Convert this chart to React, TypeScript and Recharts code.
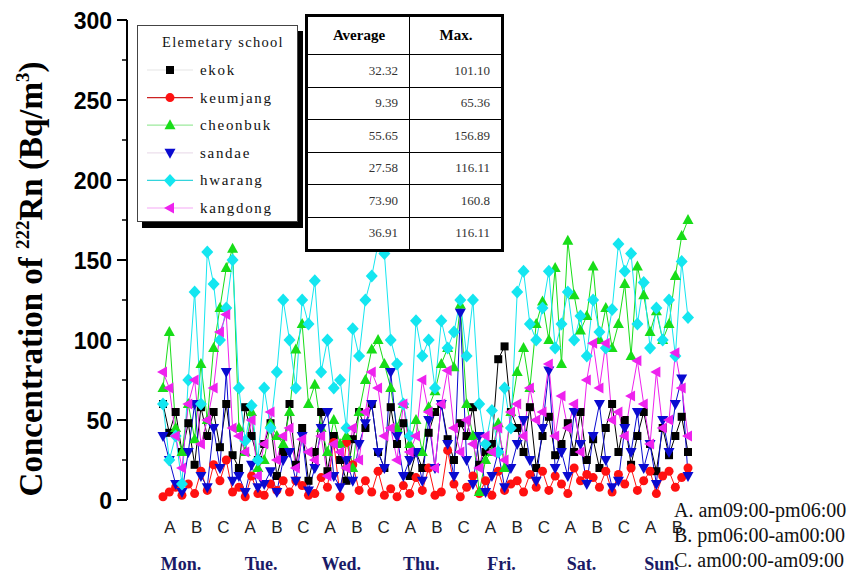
import React from "react";
import { ComposedChart, Line, XAxis, YAxis, Legend } from "recharts";

// schools, in legend order
const schools = ["ekok", "keumjang", "cheonbuk", "sandae", "hwarang", "kangdong"];

// 4 readings per period, periods run Mon A, Mon B, Mon C ... Sun C (Bq/m3)
const ekok = [
  60, 42, 55, 30, 48, 22, 58, 40, 55, 33, 60, 28, 20, 58, 40, 25, 35, 48, 15, 30, 60, 22, 45, 12,
  30, 55, 18, 40, 25, 12, 38, 55, 45, 60, 30, 20, 58, 35, 48, 15, 30, 20, 42, 55, 60, 38, 25, 48,
  40, 58, 22, 30, 35, 88, 96, 55, 45, 30, 58, 20, 40, 52, 28, 35, 48, 30, 55, 25, 38, 20, 45, 60,
  30, 50, 22, 40, 55, 35, 18, 45, 28, 40, 52, 30,
];
const keumjang = [
  2, 5, 8, 3, 10, 4, 18, 6, 22, 12, 25, 5, 8, 2, 15, 4, 3, 10, 6, 12, 5, 12, 9, 3,
  4, 14, 8, 36, 2, 36, 22, 6, 12, 5, 18, 3, 7, 2, 9, 4, 14, 6, 20, 3, 5, 31, 10, 2,
  8, 15, 4, 12, 3, 18, 6, 10, 12, 5, 16, 8, 18, 6, 15, 10, 4, 20, 12, 16, 14, 8, 18, 5,
  16, 10, 20, 6, 12, 18, 4, 15, 18, 8, 14, 20,
];
const cheonbuk = [
  70, 105, 45, 30, 60, 38, 85, 50, 95, 120, 145, 157, 45, 30, 55, 20, 25, 48, 40, 35, 55, 94, 110, 60,
  72, 45, 30, 50, 35, 40, 20, 55, 75, 94, 100, 85, 70, 45, 60, 35, 50, 30, 58, 68, 85, 95, 83, 122,
  60, 40, 5, 25, 30, 48, 20, 55, 80, 95, 70, 110, 124, 100, 145, 85, 162, 128, 106, 115, 146, 100, 120, 95,
  110, 135, 90, 146, 128, 105, 118, 100, 110, 140, 165, 175,
];
const sandae = [
  40, 25, 10, 5, 30, 60, 15, 8, 45, 20, 80, 12, 15, 5, 22, 8, 10, 18, 5, 25, 30, 12, 40, 6,
  20, 45, 55, 15, 8, 25, 12, 35, 48, 60, 30, 20, 80, 40, 15, 25, 30, 12, 50, 20, 60, 35, 15, 117,
  25, 10, 40, 5, 15, 30, 8, 20, 35, 50, 25, 12, 45, 81, 20, 30, 15, 55, 35, 10, 40, 60, 25, 8,
  12, 45, 30, 55, 20, 35, 10, 50, 30, 60, 76, 15,
];
const hwarang = [
  60, 25, 40, 10, 75, 130, 60, 155, 135, 100, 120, 150, 70, 37, 59, 25, 70, 45, 80, 125, 100, 70, 125, 110,
  137, 80, 100, 70, 75, 45, 107, 90, 125, 140, 160, 154, 100, 85, 60, 40, 112, 90, 100, 70, 112, 95, 105, 125,
  90, 125, 60, 35, 56, 30, 70, 45, 130, 143, 110, 100, 120, 143, 95, 110, 130, 100, 115, 90, 125, 105, 95, 119,
  160, 143, 154, 110, 136, 95, 120, 100, 125, 90, 149, 114,
];
const kangdong = [
  80, 70, 40, 20, 60, 75, 35, 50, 70, 105, 116, 45, 40, 30, 50, 15, 35, 55, 25, 40, 45, 20, 38, 30,
  25, 40, 15, 35, 30, 20, 45, 25, 55, 80, 70, 40, 45, 25, 60, 30, 40, 75, 55, 20, 60, 81, 45, 30,
  50, 35, 20, 40, 30, 45, 25, 55, 60, 40, 70, 50, 55, 85, 40, 65, 45, 60, 30, 75, 98, 70, 98, 50,
  55, 40, 65, 87, 60, 35, 80, 45, 50, 92, 70, 40,
];

// summary table
const averages = ["32.32", "9.39", "55.65", "27.58", "73.90", "36.91"];
const maxima = ["101.10", "65.36", "156.89", "116.11", "160.8", "116.11"];

const yTicks = [0, 25, 50, 75, 100, 125, 150, 175, 200, 225, 250, 275, 300];
const periodLabels = [
  "A", "B", "C", "A", "B", "C", "A", "B", "C", "A", "B", "C", "A", "B", "C", "A", "B", "C", "A", "B", "C",
];
const dayLabels = ["Mon.", "Tue.", "Wed.", "Thu.", "Fri.", "Sat.", "Sun."];
const periodNotes = ["A. am09:00-pm06:00", "B. pm06:00-am00:00", "C. am00:00-am09:00"];

const seriesValues: Record<string, number[]> = { ekok, keumjang, cheonbuk, sandae, hwarang, kangdong };

const seriesStyle: Record<string, { color: string; legendLine: string; shape: string }> = {
  ekok: { color: "#000000", legendLine: "#e6e6e6", shape: "square" },
  keumjang: { color: "#ff1111", legendLine: "#cc2222", shape: "circle" },
  cheonbuk: { color: "#18dd18", legendLine: "#9dea9d", shape: "up" },
  sandae: { color: "#0a0ad0", legendLine: "#ecdfec", shape: "down" },
  hwarang: { color: "#14e6f0", legendLine: "#33d4dc", shape: "diamond" },
  kangdong: { color: "#ee22ee", legendLine: "#f5a8f5", shape: "left" },
};

const data = ekok.map((_, i) => {
  const row: Record<string, number> = { t: i };
  schools.forEach((s) => (row[s] = seriesValues[s][i]));
  return row;
});

// x scale: 84 readings across 525px, plot from x=127 to x=697
const PX_PER_T = 525 / 83;
const X_MIN = -36 / PX_PER_T;
const X_MAX = 534 / PX_PER_T;
const xTicks = periodLabels
  .map((_, i) => (7 + 26.7 * i) / PX_PER_T)
  .filter((t) => t <= X_MAX);

const SERIF = "'Liberation Serif', 'Times New Roman', serif";
const SANS = "'Liberation Sans', Arial, sans-serif";

function Marker({ shape, cx, cy, color }: { shape: string; cx: number; cy: number; color: string }) {
  if (cx == null || cy == null) return null;
  switch (shape) {
    case "square":
      return <rect x={cx - 4} y={cy - 4} width={8} height={8} fill={color} />;
    case "circle":
      return <circle cx={cx} cy={cy} r={4.5} fill={color} />;
    case "up":
      return <polygon points={`${cx},${cy - 6} ${cx + 5.5},${cy + 4} ${cx - 5.5},${cy + 4}`} fill={color} />;
    case "down":
      return <polygon points={`${cx - 5.5},${cy - 4} ${cx + 5.5},${cy - 4} ${cx},${cy + 6}`} fill={color} />;
    case "diamond":
      return <polygon points={`${cx},${cy - 6.5} ${cx + 6},${cy} ${cx},${cy + 6.5} ${cx - 6},${cy}`} fill={color} />;
    default:
      return <polygon points={`${cx - 6},${cy} ${cx + 4},${cy - 5.5} ${cx + 4},${cy + 5.5}`} fill={color} />;
  }
}

const renderYTick = (props: any) => {
  const { x, y, payload } = props;
  const major = payload.value % 50 === 0;
  return (
    <g>
      <line x1={x - (major ? 10 : 5)} x2={x} y1={y} y2={y} stroke="#000" strokeWidth={major ? 2 : 1.5} />
      {major && (
        <text x={x - 15} y={y + 8.5} textAnchor="end" fontFamily={SANS} fontWeight="bold" fontSize={23} fill="#000">
          {payload.value}
        </text>
      )}
    </g>
  );
};

const renderXTick = (props: any) => {
  const { x, y, index } = props;
  return (
    <g>
      <text x={x} y={y + 33} textAnchor="middle" fontFamily={SANS} fontSize={17} fill="#222">
        {periodLabels[index]}
      </text>
      {index % 3 === 0 && (
        <text x={x + 11} y={y + 70} textAnchor="middle" fontFamily={SERIF} fontWeight="bold" fontSize={18} fill="#1a1a66">
          {dayLabels[index / 3]}
        </text>
      )}
    </g>
  );
};

function YTitle() {
  return (
    <text
      transform="translate(42,279) rotate(-90)"
      textAnchor="middle"
      fontFamily={SERIF}
      fontWeight="bold"
      fontSize={33}
      fill="#000"
    >
      Concentration of{" "}
      <tspan fontSize={19} dy={-13}>222</tspan>
      <tspan dy={13}>Rn (Bq/m</tspan>
      <tspan fontSize={19} dy={-13}>3</tspan>
      <tspan dy={13}>)</tspan>
    </text>
  );
}

function SchoolLegend() {
  return (
    <div
      style={{
        width: 161,
        height: 197,
        boxSizing: "border-box",
        border: "1px solid #444",
        background: "#fff",
        boxShadow: "5px 6px 0 #000",
      }}
    >
      <svg width={159} height={195} style={{ display: "block" }}>
        <text x={85} y={21} textAnchor="middle" fontFamily={SERIF} fontSize={14.5} letterSpacing={1.3} fill="#111">
          Elemetary school
        </text>
        {schools.map((s, i) => {
          const cy = 44 + i * 27.6;
          const st = seriesStyle[s];
          return (
            <g key={s}>
              <line x1={9} x2={55} y1={cy} y2={cy} stroke={st.legendLine} strokeWidth={1.2} />
              <Marker shape={st.shape} cx={32} cy={cy} color={st.color} />
              <text x={62} y={cy + 5} fontFamily={SERIF} fontSize={15} letterSpacing={1.7} fill="#111">
                {s}
              </text>
            </g>
          );
        })}
      </svg>
    </div>
  );
}

function SummaryTable() {
  const cell: React.CSSProperties = {
    border: "1.5px solid #000",
    fontFamily: SERIF,
    fontSize: 13,
    color: "#333",
    textAlign: "right",
    paddingRight: 11,
    height: 29.5,
  };
  const head: React.CSSProperties = {
    ...cell,
    fontSize: 15,
    fontWeight: "bold",
    color: "#000",
    textAlign: "center",
    paddingRight: 0,
    height: 35,
  };
  return (
    <table
      style={{
        position: "absolute",
        left: 305,
        top: 14,
        width: 199,
        height: 215,
        borderCollapse: "collapse",
        border: "3px solid #000",
        background: "#fff",
      }}
    >
      <tbody>
        <tr>
          <td style={{ ...head, width: 100 }}>Average</td>
          <td style={head}>Max.</td>
        </tr>
        {averages.map((a, i) => (
          <tr key={i}>
            <td style={cell}>{a}</td>
            <td style={cell}>{maxima[i]}</td>
          </tr>
        ))}
      </tbody>
    </table>
  );
}

export default function App() {
  return (
    <div style={{ position: "absolute", left: 0, top: 0, width: 860, height: 586, overflow: "hidden", background: "#fff" }}>
      <ComposedChart width={860} height={586} data={data} margin={{ top: 20, right: 163, bottom: 0, left: 0 }}>
        <XAxis
          type="number"
          dataKey="t"
          domain={[X_MIN, X_MAX]}
          allowDataOverflow
          ticks={xTicks}
          interval={0}
          height={86}
          axisLine={false}
          tickLine={false}
          tickSize={0}
          tickMargin={0}
          tick={renderXTick}
        />
        <YAxis
          type="number"
          domain={[0, 300]}
          ticks={yTicks}
          interval={0}
          width={127}
          axisLine={{ stroke: "#000", strokeWidth: 2 }}
          tickLine={false}
          tickSize={0}
          tickMargin={0}
          tick={renderYTick}
          label={<YTitle />}
        />
        <Legend
          layout="horizontal"
          verticalAlign="middle"
          align="center"
          wrapperStyle={{ left: 137, top: 25, width: 161, height: 197 }}
          content={() => <SchoolLegend />}
        />
        {schools.map((s) => {
          const st = seriesStyle[s];
          return (
            <Line
              key={s}
              type="linear"
              dataKey={s}
              name={s}
              stroke={st.color}
              strokeWidth={1}
              isAnimationActive={false}
              activeDot={false}
              dot={(p: any) => (
                <Marker key={`${s}-${p.index}`} shape={st.shape} cx={p.cx} cy={p.cy} color={st.color} />
              )}
            />
          );
        })}
      </ComposedChart>
      <SummaryTable />
      <div
        style={{
          position: "absolute",
          left: 674,
          top: 498,
          fontFamily: SERIF,
          fontSize: 20,
          lineHeight: "25px",
          whiteSpace: "nowrap",
          color: "#111",
        }}
      >
        {periodNotes.map((n) => (
          <div key={n}>{n}</div>
        ))}
      </div>
    </div>
  );
}
